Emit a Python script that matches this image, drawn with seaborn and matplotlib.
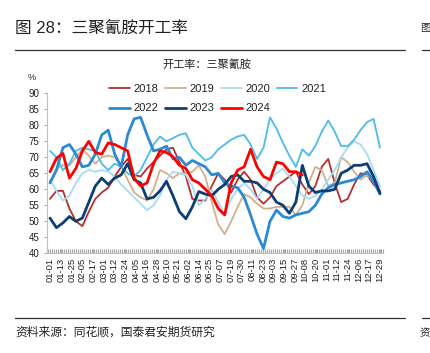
import numpy as np
import pandas as pd
import matplotlib
matplotlib.use("Agg")
import matplotlib.pyplot as plt
from matplotlib.lines import Line2D
from matplotlib.ticker import MultipleLocator
import seaborn as sns

# ---------------- data ----------------
title = "图 28：三聚氰胺开工率"
subtitle = "开工率：三聚氰胺"
source = "资料来源：同花顺，国泰君安期货研究"
unit = "%"

tick_labels = ["01-01", "01-13", "01-25", "02-05", "02-17", "03-01", "03-12", "03-24",
               "04-05", "04-16", "04-28", "05-10", "05-21", "06-02", "06-14", "06-25",
               "07-07", "07-19", "07-30", "08-11", "08-23", "09-03", "09-15", "09-27",
               "10-08", "10-20", "11-01", "11-12", "11-24", "12-06", "12-17", "12-29"]
y_ticks = [40, 45, 50, 55, 60, 65, 70, 75, 80, 85, 90]

years = ["2018", "2019", "2020", "2021", "2022", "2023", "2024"]

v2018 = [57, 59.5, 59.5, 54, 50, 48.5, 53, 57, 59, 60.5, 64, 67, 69.5, 64.5, 64, 66.5,
         68.5, 70.5, 72.5, 73, 68.5, 64, 57, 56.5, 56.5, 61, 65, 63, 59, 63, 65.5, 63,
         57.5, 55.5, 57.5, 61, 62.5, 64, 65.5, 61.5, 58.5, 61, 67, 69.5, 62, 56, 57,
         61.5, 65, 64.5, 61.5, 59.5]
v2019 = [62, 66.5, 67.5, 67.5, 70, 72.5, 70.5, 68, 70, 70.5, 70, 67, 63, 59, 57.5, 56.5,
         60, 66, 65, 63.5, 65, 65, 65.5, 67.5, 64, 56, 49, 46, 50, 54.5, 58.5, 57.5,
         55.5, 54, 54, 54.5, 54.5, 54.5, 52, 55, 62, 67, 66, 61, 62, 70, 68.5, 65.5,
         63, 64.5, 62.5, 59]
v2020 = [63, 59.5, 56.5, 58, 62, 65, 66, 65.5, 66, 65.5, 64, 61.5, 59.5, 57.5, 55.5, 53.5,
         55, 58, 63, 65.5, 65, 64.5, 61, 55, 57, 60, 56, 52, 57, 60, 62, 60, 57, 60, 63,
         65, 66.5, 64, 61, 58, 57, 58, 60, 63, 66, 70, 73, 75, 74, 71, 66, 61]
v2021 = [72, 70, 66, 68, 72, 73, 72.5, 72, 68, 66, 68, 67, 65, 64, 66, 70, 74, 76.5, 75,
         76, 77, 77.5, 73, 71, 69, 70, 72.5, 74, 75.5, 76.5, 77, 74, 69.5, 73, 82.5, 79,
         74.5, 70.5, 67, 72.5, 70.5, 73.5, 78, 81.5, 78, 73.5, 73.5, 75.5, 78.5, 81, 82, 73]
v2022 = [62, 66, 73, 74, 71, 67, 67.5, 71, 77, 78.5, 71, 67, 77, 82, 82.5, 77, 72, 72.5,
         73.5, 69.5, 70, 67.5, 69, 68, 67, 64.5, 65, 62, 61, 60.5, 57.5, 52, 46, 41.5, 50,
         53.5, 51.5, 51, 52, 52.5, 53, 55, 58.5, 60.5, 61.5, 62, 62.5, 63, 64, 65.5, 62.5, 58.5]
v2023 = [51, 48, 49.5, 51.5, 50, 51, 56, 61, 63.5, 61.5, 63.5, 64.5, 68, 63, 62, 57, 57.5,
         59.5, 62.5, 58, 53, 50.8, 54.5, 59.3, 58.5, 58, 60, 61.5, 64, 64.5, 62.5, 62.5, 62,
         60, 59, 56, 55, 52.5, 56, 67.5, 61, 59, 59.5, 59.5, 60, 65, 66, 67.5, 67.5, 68, 64, 58.8]
v2024 = [65.5, 69.7, 71.2, 63.5, 66.5, 72, 75, 71.5, 71, 74.5, 74, 73, 72, 63.5, 61, 62, 68,
         72, 71.5, 70.2, 67.5, 66.5, 63, 62, 60, 58, 54, 52, 62, 66, 67, 72.5, 67, 64, 63,
         68.5, 68, 65.5, 65.5, 64.5]

colors = {"2018": "#B3302E", "2019": "#D2AF8A", "2020": "#A8DBF3", "2021": "#4DBBEA",
          "2022": "#2C8AD5", "2023": "#0C3D73", "2024": "#FF0000"}
widths = {"2018": 1.3, "2019": 1.3, "2020": 1.3, "2021": 1.3,
          "2022": 2.0, "2023": 2.0, "2024": 2.0}

series = {"2018": v2018, "2019": v2019, "2020": v2020, "2021": v2021,
          "2022": v2022, "2023": v2023, "2024": v2024}
n = len(v2018)
day = np.linspace(0, 362, n)

# ---------------- figure ----------------
sns.set_theme(style="white")
plt.rcParams["font.family"] = ["Liberation Sans", "Noto Sans CJK SC", "DejaVu Sans"]

W, H = 431, 353
fig = plt.figure(figsize=(W / 100, H / 100), dpi=100)
fig.patch.set_facecolor("white")

def fx(px):
    return px / W

def fy(py):
    return 1 - py / H

ax = fig.add_axes([fx(47), fy(253.3), 336 / W, 160 / H])
ax.set_facecolor("white")

for yr in years:
    vals = np.array(series[yr] + [np.nan] * (n - len(series[yr])), dtype=float)
    mask = ~np.isnan(vals)
    sns.lineplot(x=day[mask], y=vals[mask], ax=ax, color=colors[yr],
                 linewidth=widths[yr], label=yr, sort=False)
for ln in ax.get_lines():
    ln.set_solid_joinstyle("round")
    ln.set_solid_capstyle("round")

# axes limits / ticks
scale = 330 / 362
ax.set_xlim(-3 / scale, 362 + 3 / scale)
ax.set_ylim(40, 90)
ax.set_yticks(y_ticks)
ax.set_yticklabels([str(t) for t in y_ticks], fontsize=7, color="#222222")

tick_pos = [pd.Timestamp("2023-" + s).dayofyear - 1 for s in tick_labels]
ax.set_xticks(tick_pos)
ax.set_xticklabels(tick_labels, rotation=90, fontsize=6.8, color="#222222")
ax.xaxis.set_minor_locator(MultipleLocator(2.2))

ax.tick_params(axis="y", which="major", direction="out", length=2.5, width=0.8,
               color="#A6A6A6", pad=3, left=True)
ax.tick_params(axis="x", which="major", direction="in", length=3, width=0.8,
               color="#A6A6A6", pad=3, bottom=True)
ax.tick_params(axis="x", which="minor", direction="in", length=3, width=0.8,
               color="#A6A6A6", bottom=True)

for side in ["top", "right"]:
    ax.spines[side].set_visible(False)
for side in ["left", "bottom"]:
    ax.spines[side].set_visible(True)
    ax.spines[side].set_color("#BFBFBF")
    ax.spines[side].set_linewidth(0.8)
ax.grid(False)
ax.set_xlabel("")
ax.set_ylabel("")

# legend (row-major order across 4 columns)
handles, labels = ax.get_legend_handles_labels()
hmap = dict(zip(labels, handles))
order = ["2018", "2022", "2019", "2023", "2020", "2024", "2021"]
leg = ax.legend([hmap[k] for k in order], order, ncol=4, frameon=False,
                loc="upper left", bbox_to_anchor=(fx(109), fy(84)),
                bbox_transform=fig.transFigure, fontsize=8, handlelength=1.85,
                handletextpad=0.35, columnspacing=0.6, labelspacing=0.85,
                borderpad=0, borderaxespad=0)
for t in leg.get_texts():
    t.set_color("#222222")

# texts
fig.text(fx(15), fy(28), title, fontsize=12, ha="left", va="center", color="#222222")
fig.add_artist(Line2D([fx(15), fx(405)], [fy(50), fy(50)], color="#333333", lw=0.9))
fig.text(fx(420), fy(28), "图", fontsize=7.5, ha="left", va="center", color="#222222")
fig.add_artist(Line2D([fx(422), fx(431)], [fy(50), fy(50)], color="#333333", lw=0.9))

fig.text(fx(207), fy(64), subtitle, fontsize=8, ha="center", va="center", color="#222222")
fig.text(fx(32), fy(77), unit, fontsize=6.5, ha="center", va="center", color="#222222")

fig.add_artist(Line2D([fx(15), fx(405)], [fy(318), fy(318)], color="#333333", lw=0.9))
fig.add_artist(Line2D([fx(422), fx(431)], [fy(318), fy(318)], color="#333333", lw=0.9))
fig.text(fx(15), fy(333), source, fontsize=8.5, ha="left", va="center", color="#222222")
fig.text(fx(420), fy(333), "资", fontsize=7.5, ha="left", va="center", color="#222222")

fig.savefig("out.png", dpi=100, facecolor="white")
